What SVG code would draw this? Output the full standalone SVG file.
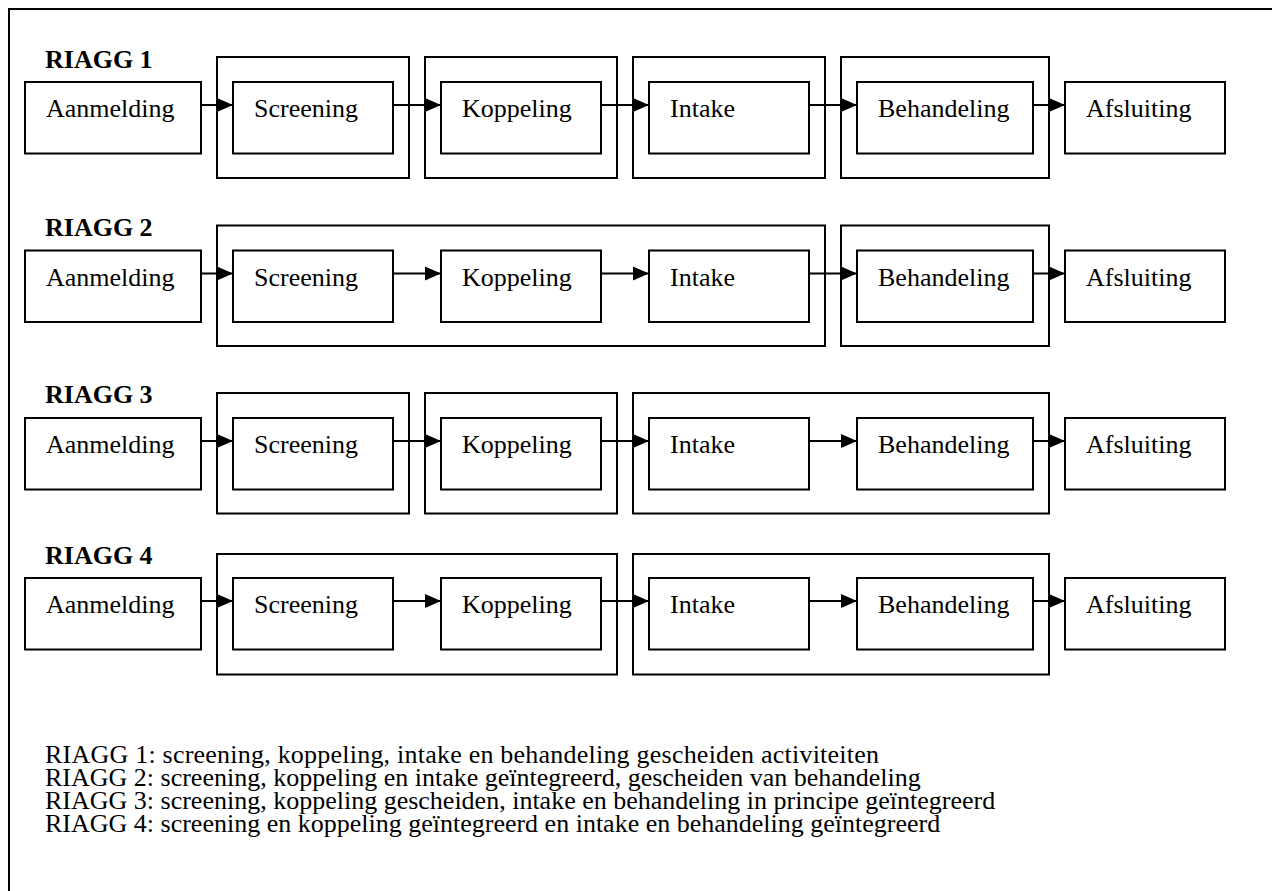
<svg xmlns="http://www.w3.org/2000/svg" width="1272" height="891" viewBox="0 0 1272 891">
<defs>
<style>
.bx{fill:#fff;stroke:#000;stroke-width:2}
.grp{fill:none;stroke:#000;stroke-width:2}
.t{font-family:"Liberation Serif","Times New Roman",serif;font-size:26px;fill:#000}
.lb{font-family:"Liberation Serif","Times New Roman",serif;font-size:26px;font-weight:bold;fill:#000}
.ln{stroke:#000;stroke-width:2;fill:none}
</style>
<marker id="ah" markerWidth="16" markerHeight="14" refX="16" refY="7" orient="auto" markerUnits="userSpaceOnUse">
<path d="M0,0 L16,7 L0,14 Z" fill="#000"/>
</marker>
</defs>
<rect width="1272" height="891" fill="#fff"/>
<rect x="9" y="9" width="1300" height="1000" fill="none" stroke="#000" stroke-width="2"/>

<!-- group frames -->
<g id="groups">
<!-- row 1 -->
<rect class="grp" x="217" y="57" width="192" height="121"/>
<rect class="grp" x="425" y="57" width="192" height="121"/>
<rect class="grp" x="633" y="57" width="192" height="121"/>
<rect class="grp" x="841" y="57" width="208" height="121"/>
<!-- row 2 -->
<rect class="grp" x="217" y="225.5" width="608" height="120.5"/>
<rect class="grp" x="841" y="225.5" width="208" height="120.5"/>
<!-- row 3 -->
<rect class="grp" x="217" y="393" width="192" height="120.5"/>
<rect class="grp" x="425" y="393" width="192" height="120.5"/>
<rect class="grp" x="633" y="393" width="416" height="120.5"/>
<!-- row 4 -->
<rect class="grp" x="217" y="554" width="400" height="120.5"/>
<rect class="grp" x="633" y="554" width="416" height="120.5"/>
</g>

<g id="labels">
<text class="lb" x="45" y="68">RIAGG 1</text>
<text class="lb" x="45" y="236">RIAGG 2</text>
<text class="lb" x="45" y="403">RIAGG 3</text>
<text class="lb" x="45" y="564">RIAGG 4</text>
</g>

<!-- row 1 nodes -->
<g id="r1-aanmelding"><rect class="bx" x="25" y="82" width="176" height="71.5"/><text class="t" x="46" y="117">Aanmelding</text></g>
<g id="r1-screening"><rect class="bx" x="233" y="82" width="160" height="71.5"/><text class="t" x="254" y="117">Screening</text></g>
<g id="r1-koppeling"><rect class="bx" x="441" y="82" width="160" height="71.5"/><text class="t" x="462" y="117">Koppeling</text></g>
<g id="r1-intake"><rect class="bx" x="649" y="82" width="160" height="71.5"/><text class="t" x="670" y="117">Intake</text></g>
<g id="r1-behandeling"><rect class="bx" x="857" y="82" width="176" height="71.5"/><text class="t" x="878" y="117">Behandeling</text></g>
<g id="r1-afsluiting"><rect class="bx" x="1065" y="82" width="160" height="71.5"/><text class="t" x="1086" y="117">Afsluiting</text></g>

<!-- row 2 nodes -->
<g id="r2-aanmelding"><rect class="bx" x="25" y="250.5" width="176" height="71.5"/><text class="t" x="46" y="285.5">Aanmelding</text></g>
<g id="r2-screening"><rect class="bx" x="233" y="250.5" width="160" height="71.5"/><text class="t" x="254" y="285.5">Screening</text></g>
<g id="r2-koppeling"><rect class="bx" x="441" y="250.5" width="160" height="71.5"/><text class="t" x="462" y="285.5">Koppeling</text></g>
<g id="r2-intake"><rect class="bx" x="649" y="250.5" width="160" height="71.5"/><text class="t" x="670" y="285.5">Intake</text></g>
<g id="r2-behandeling"><rect class="bx" x="857" y="250.5" width="176" height="71.5"/><text class="t" x="878" y="285.5">Behandeling</text></g>
<g id="r2-afsluiting"><rect class="bx" x="1065" y="250.5" width="160" height="71.5"/><text class="t" x="1086" y="285.5">Afsluiting</text></g>

<!-- row 3 nodes -->
<g id="r3-aanmelding"><rect class="bx" x="25" y="418" width="176" height="71.5"/><text class="t" x="46" y="453">Aanmelding</text></g>
<g id="r3-screening"><rect class="bx" x="233" y="418" width="160" height="71.5"/><text class="t" x="254" y="453">Screening</text></g>
<g id="r3-koppeling"><rect class="bx" x="441" y="418" width="160" height="71.5"/><text class="t" x="462" y="453">Koppeling</text></g>
<g id="r3-intake"><rect class="bx" x="649" y="418" width="160" height="71.5"/><text class="t" x="670" y="453">Intake</text></g>
<g id="r3-behandeling"><rect class="bx" x="857" y="418" width="176" height="71.5"/><text class="t" x="878" y="453">Behandeling</text></g>
<g id="r3-afsluiting"><rect class="bx" x="1065" y="418" width="160" height="71.5"/><text class="t" x="1086" y="453">Afsluiting</text></g>

<!-- row 4 nodes -->
<g id="r4-aanmelding"><rect class="bx" x="25" y="578" width="176" height="71.5"/><text class="t" x="46" y="613">Aanmelding</text></g>
<g id="r4-screening"><rect class="bx" x="233" y="578" width="160" height="71.5"/><text class="t" x="254" y="613">Screening</text></g>
<g id="r4-koppeling"><rect class="bx" x="441" y="578" width="160" height="71.5"/><text class="t" x="462" y="613">Koppeling</text></g>
<g id="r4-intake"><rect class="bx" x="649" y="578" width="160" height="71.5"/><text class="t" x="670" y="613">Intake</text></g>
<g id="r4-behandeling"><rect class="bx" x="857" y="578" width="176" height="71.5"/><text class="t" x="878" y="613">Behandeling</text></g>
<g id="r4-afsluiting"><rect class="bx" x="1065" y="578" width="160" height="71.5"/><text class="t" x="1086" y="613">Afsluiting</text></g>

<g id="connectors">
<line class="ln" x1="201" y1="105" x2="233" y2="105" marker-end="url(#ah)"/>
<line class="ln" x1="393" y1="105" x2="441" y2="105" marker-end="url(#ah)"/>
<line class="ln" x1="601" y1="105" x2="649" y2="105" marker-end="url(#ah)"/>
<line class="ln" x1="809" y1="105" x2="857" y2="105" marker-end="url(#ah)"/>
<line class="ln" x1="1033" y1="105" x2="1065" y2="105" marker-end="url(#ah)"/>

<line class="ln" x1="201" y1="273.5" x2="233" y2="273.5" marker-end="url(#ah)"/>
<line class="ln" x1="393" y1="273.5" x2="441" y2="273.5" marker-end="url(#ah)"/>
<line class="ln" x1="601" y1="273.5" x2="649" y2="273.5" marker-end="url(#ah)"/>
<line class="ln" x1="809" y1="273.5" x2="857" y2="273.5" marker-end="url(#ah)"/>
<line class="ln" x1="1033" y1="273.5" x2="1065" y2="273.5" marker-end="url(#ah)"/>

<line class="ln" x1="201" y1="441" x2="233" y2="441" marker-end="url(#ah)"/>
<line class="ln" x1="393" y1="441" x2="441" y2="441" marker-end="url(#ah)"/>
<line class="ln" x1="601" y1="441" x2="649" y2="441" marker-end="url(#ah)"/>
<line class="ln" x1="809" y1="441" x2="857" y2="441" marker-end="url(#ah)"/>
<line class="ln" x1="1033" y1="441" x2="1065" y2="441" marker-end="url(#ah)"/>

<line class="ln" x1="201" y1="601" x2="233" y2="601" marker-end="url(#ah)"/>
<line class="ln" x1="393" y1="601" x2="441" y2="601" marker-end="url(#ah)"/>
<line class="ln" x1="601" y1="601" x2="649" y2="601" marker-end="url(#ah)"/>
<line class="ln" x1="809" y1="601" x2="857" y2="601" marker-end="url(#ah)"/>
<line class="ln" x1="1033" y1="601" x2="1065" y2="601" marker-end="url(#ah)"/>
</g>

<g id="legend">
<text class="t" x="45" y="763" textLength="834" lengthAdjust="spacing">RIAGG 1: screening, koppeling, intake en behandeling gescheiden activiteiten</text>
<text class="t" x="45" y="786">RIAGG 2: screening, koppeling en intake geïntegreerd, gescheiden van behandeling</text>
<text class="t" x="45" y="809">RIAGG 3: screening, koppeling gescheiden, intake en behandeling in principe geïntegreerd</text>
<text class="t" x="45" y="832">RIAGG 4: screening en koppeling geïntegreerd en intake en behandeling geïntegreerd</text>
</g>
</svg>
